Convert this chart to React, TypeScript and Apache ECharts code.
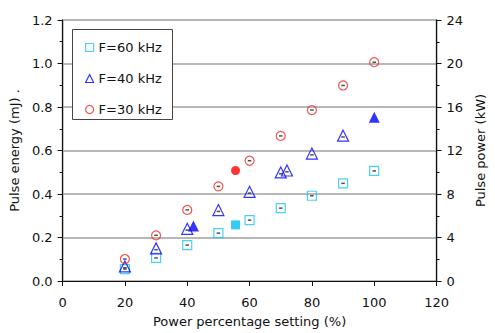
import React, { useEffect, useRef } from "react";
import * as echarts from "echarts";

// Power percentage setting (%)
const setting = [20, 30, 40, 50, 60, 70, 80, 90, 100];
const setting40 = [20, 30, 40, 50, 60, 70, 72, 80, 90];

// Pulse energy (mJ)
const energy60 = [0.055, 0.106, 0.165, 0.22, 0.28, 0.335, 0.392, 0.449, 0.506];
const energy40 = [0.067, 0.15, 0.24, 0.326, 0.41, 0.499, 0.508, 0.586, 0.668];
const energy30 = [0.101, 0.21, 0.327, 0.435, 0.553, 0.667, 0.786, 0.899, 1.006];

// filled (highlighted) points
const filled60: [number, number][] = [[55.5, 0.258]];
const filled40: [number, number][] = [[42, 0.253], [100, 0.753]];
const filled30: [number, number][] = [[55.5, 0.508]];

const seriesNames = ["F=60 kHz", "F=40 kHz", "F=30 kHz"];
const leftTicks = [0, 1.2, 0.2];
const rightTicks = [0, 24, 4];
const xTicks = [0, 120, 20];

const CYAN = "#1cc4f2";
const BLUE = "#0000ff";
const RED = "#f02a2a";
const FONT = "DejaVu Sans";

const pairs = (xs: number[], ys: number[]) => xs.map((x, i) => [x, ys[i]]);

export default function App() {
  const ref = useRef<HTMLDivElement>(null);
  useEffect(() => {
    if (!ref.current) return;
    const chart = echarts.init(ref.current, undefined, { renderer: "svg" });
    const d60 = pairs(setting, energy60);
    const d40 = pairs(setting40, energy40);
    const d30 = pairs(setting, energy30);
    const hollow = (name: string, symbol: string, size: number, color: string, data: any[]) => ({
      name,
      type: "scatter",
      symbol,
      symbolSize: size,
      data,
      z: 3,
      itemStyle: { color: "rgba(255,255,255,0)", borderColor: color, borderWidth: 1.2 },
    });
    const solid = (name: string, symbol: string, size: number, color: string, data: any[]) => ({
      name,
      type: "scatter",
      symbol,
      symbolSize: size,
      data,
      z: 3,
      itemStyle: { color },
    });
    const dash = (name: string, data: any[]) => ({
      name,
      type: "scatter",
      symbol: "rect",
      symbolSize: [3.5, 1.5],
      data,
      z: 4,
      silent: true,
      itemStyle: { color: "#222" },
    });
    const axisText = { fontFamily: FONT, fontSize: 13, color: "#111" };
    chart.setOption({
      animation: false,
      backgroundColor: "#fff",
      textStyle: { fontFamily: FONT },
      grid: { left: 62, right: 49, top: 20, bottom: 49, show: true, borderColor: "#111", borderWidth: 1.2 },
      legend: {
        data: seriesNames,
        orient: "vertical",
        left: 85,
        top: 41,
        padding: 0,
        itemGap: 18,
        itemWidth: 8,
        itemHeight: 8,
        itemStyle: { borderWidth: 1.2 },
        textStyle: { fontFamily: FONT, fontSize: 13, color: "#111" },
        z: 5,
      },
      graphic: [
        {
          type: "rect",
          z: 4,
          shape: { x: 72.5, y: 29.5, width: 100, height: 90 },
          style: { fill: "#fff", stroke: "#444", lineWidth: 1 },
        },
      ],
      xAxis: {
        type: "value",
        min: xTicks[0],
        max: xTicks[1],
        interval: xTicks[2],
        name: "Power percentage setting (%)",
        nameLocation: "middle",
        nameGap: 34,
        nameTextStyle: axisText,
        axisLine: { lineStyle: { color: "#111", width: 1.2 } },
        axisTick: { show: true, length: 5, lineStyle: { color: "#111" } },
        axisLabel: { ...axisText, margin: 15 },
        splitLine: { show: false },
      },
      yAxis: [
        {
          type: "value",
          min: leftTicks[0],
          max: leftTicks[1],
          interval: leftTicks[2],
          name: "Pulse energy (mJ) .",
          nameLocation: "middle",
          nameGap: 37,
          nameTextStyle: axisText,
          axisLine: { show: true, lineStyle: { color: "#111", width: 1.2 } },
          axisTick: { show: true, length: 5, lineStyle: { color: "#111" } },
          minorTick: { show: true, splitNumber: 2, length: 3, lineStyle: { color: "#111" } },
          axisLabel: { ...axisText, margin: 10, formatter: (v: number) => v.toFixed(1) },
          splitLine: { show: true, lineStyle: { color: "#b8b8b8", width: 2 } },
        },
        {
          type: "value",
          position: "right",
          min: rightTicks[0],
          max: rightTicks[1],
          interval: rightTicks[2],
          name: "Pulse power (kW)",
          nameLocation: "middle",
          nameGap: 36,
          nameTextStyle: axisText,
          axisLine: { show: true, lineStyle: { color: "#111", width: 1.2 } },
          axisTick: { show: true, length: 5, lineStyle: { color: "#111" } },
          minorTick: { show: true, splitNumber: 2, length: 3, lineStyle: { color: "#111" } },
          axisLabel: { ...axisText, margin: 10 },
          splitLine: { show: false },
        },
      ],
      series: [
        hollow(seriesNames[0], "rect", 9, CYAN, d60),
        hollow(seriesNames[1], "triangle", 11, BLUE, d40),
        hollow(seriesNames[2], "circle", 9, RED, d30),
        solid("filled60", "rect", 9, "#00bff2", filled60),
        solid("filled40", "triangle", 11, BLUE, filled40),
        solid("filled30", "circle", 9, "#ff0000", filled30),
        dash("d60", d60),
        dash("d40", d40.map(([x, y]) => [x, y - 0.006])),
        dash("d30", d30),
      ],
    });
    return () => chart.dispose();
  }, []);
  return <div ref={ref} style={{ width: 495, height: 333, position: "absolute", left: 0, top: 0 }} />;
}
